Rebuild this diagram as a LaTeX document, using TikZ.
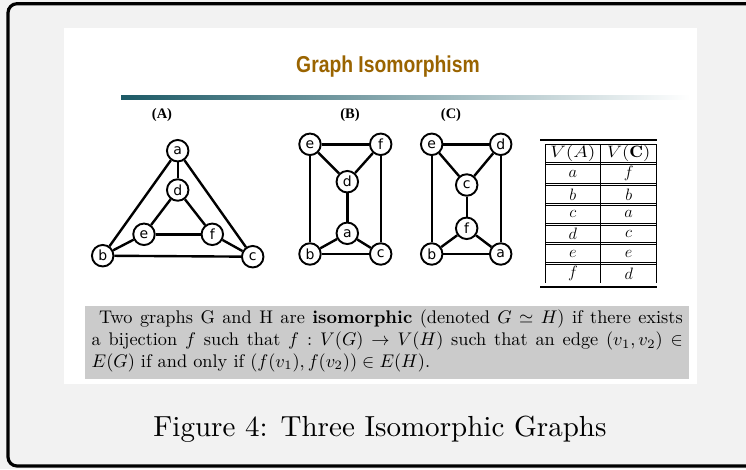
\RequirePackage{fix-cm}
\documentclass[tikz,border=0pt]{standalone}
\usepackage{amsmath}
\usepackage{fontspec}
\usepackage{graphicx}
\newfontfamily\titlefont{Liberation Sans}
\newfontfamily\vfont{DejaVu Sans}
\newfontfamily\labfont{Liberation Serif}
\definecolor{bgcol}{HTML}{F2F2F2}
\definecolor{boxcol}{HTML}{CBCBCB}
\definecolor{titlecol}{HTML}{9A6400}
\definecolor{tealcol}{HTML}{1C5A66}
\tikzset{
  vtx/.style={circle, draw, line width=1.9pt, fill=white, minimum size=21.5pt, inner sep=0pt, font=\vfont\fontsize{14}{14}\selectfont},
  gline/.style={line width=2.4pt},
  glabel/.style={font=\labfont\bfseries\fontsize{14.5}{14.5}\selectfont},
  tcell/.style={inner sep=0pt, font=\fontsize{16.5}{16.5}\selectfont},
  tline/.style={line width=0.8pt}
}
\begin{document}
\begin{tikzpicture}[x=1pt,y=-1pt]
\useasboundingbox (0,0) rectangle (746,469);
\clip (0,0) rectangle (746,469);
\fill[bgcol] (0,0) rectangle (746,469);
\draw[line width=3.2pt, rounded corners=9pt] (8,3.7) rectangle (780,466);
\fill[white] (64,28) rectangle (697,384);
% title
\node[anchor=base, inner sep=0pt, text=titlecol, font=\titlefont\bfseries\fontsize{23}{23}\selectfont] (title) at (388,72.7) {\scalebox{0.84}[1]{Graph Isomorphism}};
\shade[left color=tealcol, right color=white] (121,95.3) rectangle (690,99.3);
% labels
\node[glabel] (lA) at (162,115) {(A)};
\node[glabel] (lB) at (350,115) {(B)};
\node[glabel] (lC) at (451,115) {(C)};
% graph A
\node[vtx] (Aa) at (177.7,150.7) {a};
\node[vtx] (Ad) at (177.7,190) {d};
\node[vtx] (Ae) at (144,234.3) {e};
\node[vtx] (Af) at (212.3,234.3) {f};
\node[vtx] (Ab) at (102.7,255.7) {b};
\node[vtx] (Ac) at (252.7,256.7) {c};
\draw[gline] (Aa) -- (Ad);
\draw[gline] (Aa) -- (Ab);
\draw[gline] (Aa) -- (Ac);
\draw[gline] (Ad) -- (Ae);
\draw[gline] (Ad) -- (Af);
\draw[gline] (Ae) -- (Af);
\draw[gline] (Ae) -- (Ab);
\draw[gline] (Af) -- (Ac);
\draw[gline] (Ab) -- (Ac);
% graph B
\node[vtx] (Be) at (310,144.3) {e};
\node[vtx] (Bf) at (380.7,144.3) {f};
\node[vtx] (Bd) at (347.3,181.7) {d};
\node[vtx] (Ba) at (347.3,233.3) {a};
\node[vtx] (Bb) at (310,254) {b};
\node[vtx] (Bc) at (380.7,254) {c};
\draw[gline] (Be) -- (Bf);
\draw[gline] (Be) -- (Bd);
\draw[gline] (Bf) -- (Bd);
\draw[gline] (Be) -- (Bb);
\draw[gline] (Bf) -- (Bc);
\draw[gline] (Bd) -- (Ba);
\draw[gline] (Ba) -- (Bb);
\draw[gline] (Ba) -- (Bc);
\draw[gline] (Bb) -- (Bc);
% graph C
\node[vtx] (Ce) at (431.7,144.3) {e};
\node[vtx] (Cd) at (500.7,144.3) {d};
\node[vtx] (Cc) at (466.7,185) {c};
\node[vtx] (Cf) at (466.7,228.3) {f};
\node[vtx] (Cb) at (431.7,254) {b};
\node[vtx] (Ca) at (500.7,254) {a};
\draw[gline] (Ce) -- (Cd);
\draw[gline] (Ce) -- (Cc);
\draw[gline] (Cd) -- (Cc);
\draw[gline] (Ce) -- (Cb);
\draw[gline] (Cd) -- (Ca);
\draw[gline] (Cc) -- (Cf);
\draw[gline] (Cf) -- (Cb);
\draw[gline] (Cf) -- (Ca);
\draw[gline] (Cb) -- (Ca);
% table
\draw[line width=2.2pt] (540,140) -- (657,140);
\draw[line width=1.6pt] (540,287) -- (657,287);
\draw[tline] (545,144.3) -- (545,283);
\draw[tline] (600.7,144.3) -- (600.7,283);
\draw[tline] (656.7,144.3) -- (656.7,283);
\draw[tline] (545,144.3) -- (656.7,144.3);
\foreach \yy in {162.3,183.3,203.3,223.3,242.7,262.3}{
  \draw[tline] (545,\yy) -- (656.7,\yy);
  \draw[tline] (545,\yy+2) -- (656.7,\yy+2);
}
\node[tcell] (h1) at (572.9,153.5) {\scalebox{1.2}[1]{$V(A)$}};
\node[tcell] (h2) at (628.7,153.5) {\scalebox{1.15}[1]{$V(\mathbf{C})$}};
\node[tcell] (r1a) at (572.9,173.8) {$a$};
\node[tcell] (r1b) at (628.7,173.8) {$f$};
\node[tcell] (r2a) at (572.9,194.3) {$b$};
\node[tcell] (r2b) at (628.7,194.3) {$b$};
\node[tcell] (r3a) at (572.9,214.3) {$c$};
\node[tcell] (r3b) at (628.7,214.3) {$a$};
\node[tcell] (r4a) at (572.9,234) {$d$};
\node[tcell] (r4b) at (628.7,234) {$c$};
\node[tcell] (r5a) at (572.9,253.5) {$e$};
\node[tcell] (r5b) at (628.7,253.5) {$e$};
\node[tcell] (r6a) at (572.9,273.7) {$f$};
\node[tcell] (r6b) at (628.7,273.7) {$d$};
% definition box
\fill[boxcol] (85,305.7) rectangle (689,379.3);
\node[anchor=base west, inner sep=0pt] (def) at (91.5,323.3) {\scalebox{1.83}{\parbox[t]{323pt}{\fontsize{10}{12}\selectfont\hspace*{4pt}Two graphs G and H are \textbf{isomorphic} (denoted $G \simeq H$) if there exists\linebreak a bijection $f$ such that $f: V(G) \rightarrow V(H)$ such that an edge $(v_1,v_2) \in$\linebreak $E(G)$ if and only if $(f(v_1), f(v_2)) \in E(H)$.}}};
% caption
\node[anchor=base, inner sep=0pt] (cap) at (380,436.7) {\resizebox{453pt}{!}{\fontsize{10}{12}\selectfont Figure 4: Three Isomorphic Graphs}};
\end{tikzpicture}
\end{document}
